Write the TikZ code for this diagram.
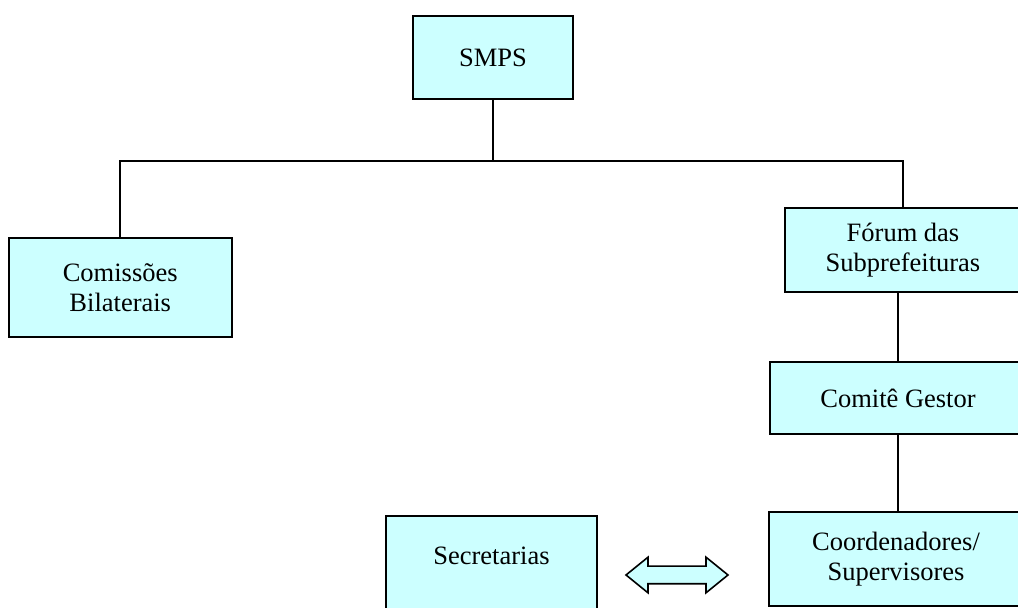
\documentclass[tikz,border=0pt]{standalone}
\usepackage{fontspec}
\setmainfont{Liberation Serif}
\usetikzlibrary{shapes.arrows}
\definecolor{boxfill}{HTML}{CCFFFF}
\tikzstyle{orgbox}=[rectangle,fill=boxfill,draw=black,line width=1pt,align=center,inner sep=0pt,font=\fontsize{13.25}{15.25}\selectfont]
\tikzstyle{link}=[line width=0.8pt]
\tikzstyle{twoway}=[double arrow,fill=boxfill,draw=black,line width=0.8pt,inner sep=4pt,minimum width=17pt,minimum height=51pt,double arrow head extend=4.5pt,double arrow tip angle=78]

\begin{document}
\begin{tikzpicture}[x=0.5pt,y=-0.5pt]
    \useasboundingbox (0,0) rectangle (1018,608);
    \clip (0,0) rectangle (1018,608);

%Boxes
    \foreach \pos/\name/\w/\h/\label in {{(493,57.5)/smps/160/83/SMPS}, {(120.25,287.5)/comissoes/223.5/99/{Comissões\\Bilaterais}}, {(903,250)/forum/236/84/{Fórum das\\Subprefeituras}}, {(898,398)/comite/256/72/{Comitê Gestor}}, {(896,559)/coord/254/94/{Coordenadores/\\Supervisores}}}
        \node[orgbox,minimum width=\w*0.5pt,minimum height=\h*0.5pt] (\name) at \pos {\label};

    \node[orgbox,minimum width=105.5pt,inner ysep=0pt,text height=24.5pt,text depth=27.5pt,anchor=base] (secretarias) at (491.5,565) {Secretarias};
    \node[twoway] (exchange) at (677,575) {};

%Lines
    \coordinate (bus) at (0,161);
    \draw[link] (smps.south) -- (smps.south |- bus);
    \draw[link] (comissoes.north) -- (comissoes.north |- bus) -- (forum.north |- bus) -- (forum.north);
    \draw[link] (comite.north |- forum.south) -- (comite.north);
    \draw[link] (comite.south) -- (comite.south |- coord.north);

\end{tikzpicture}
\end{document}
